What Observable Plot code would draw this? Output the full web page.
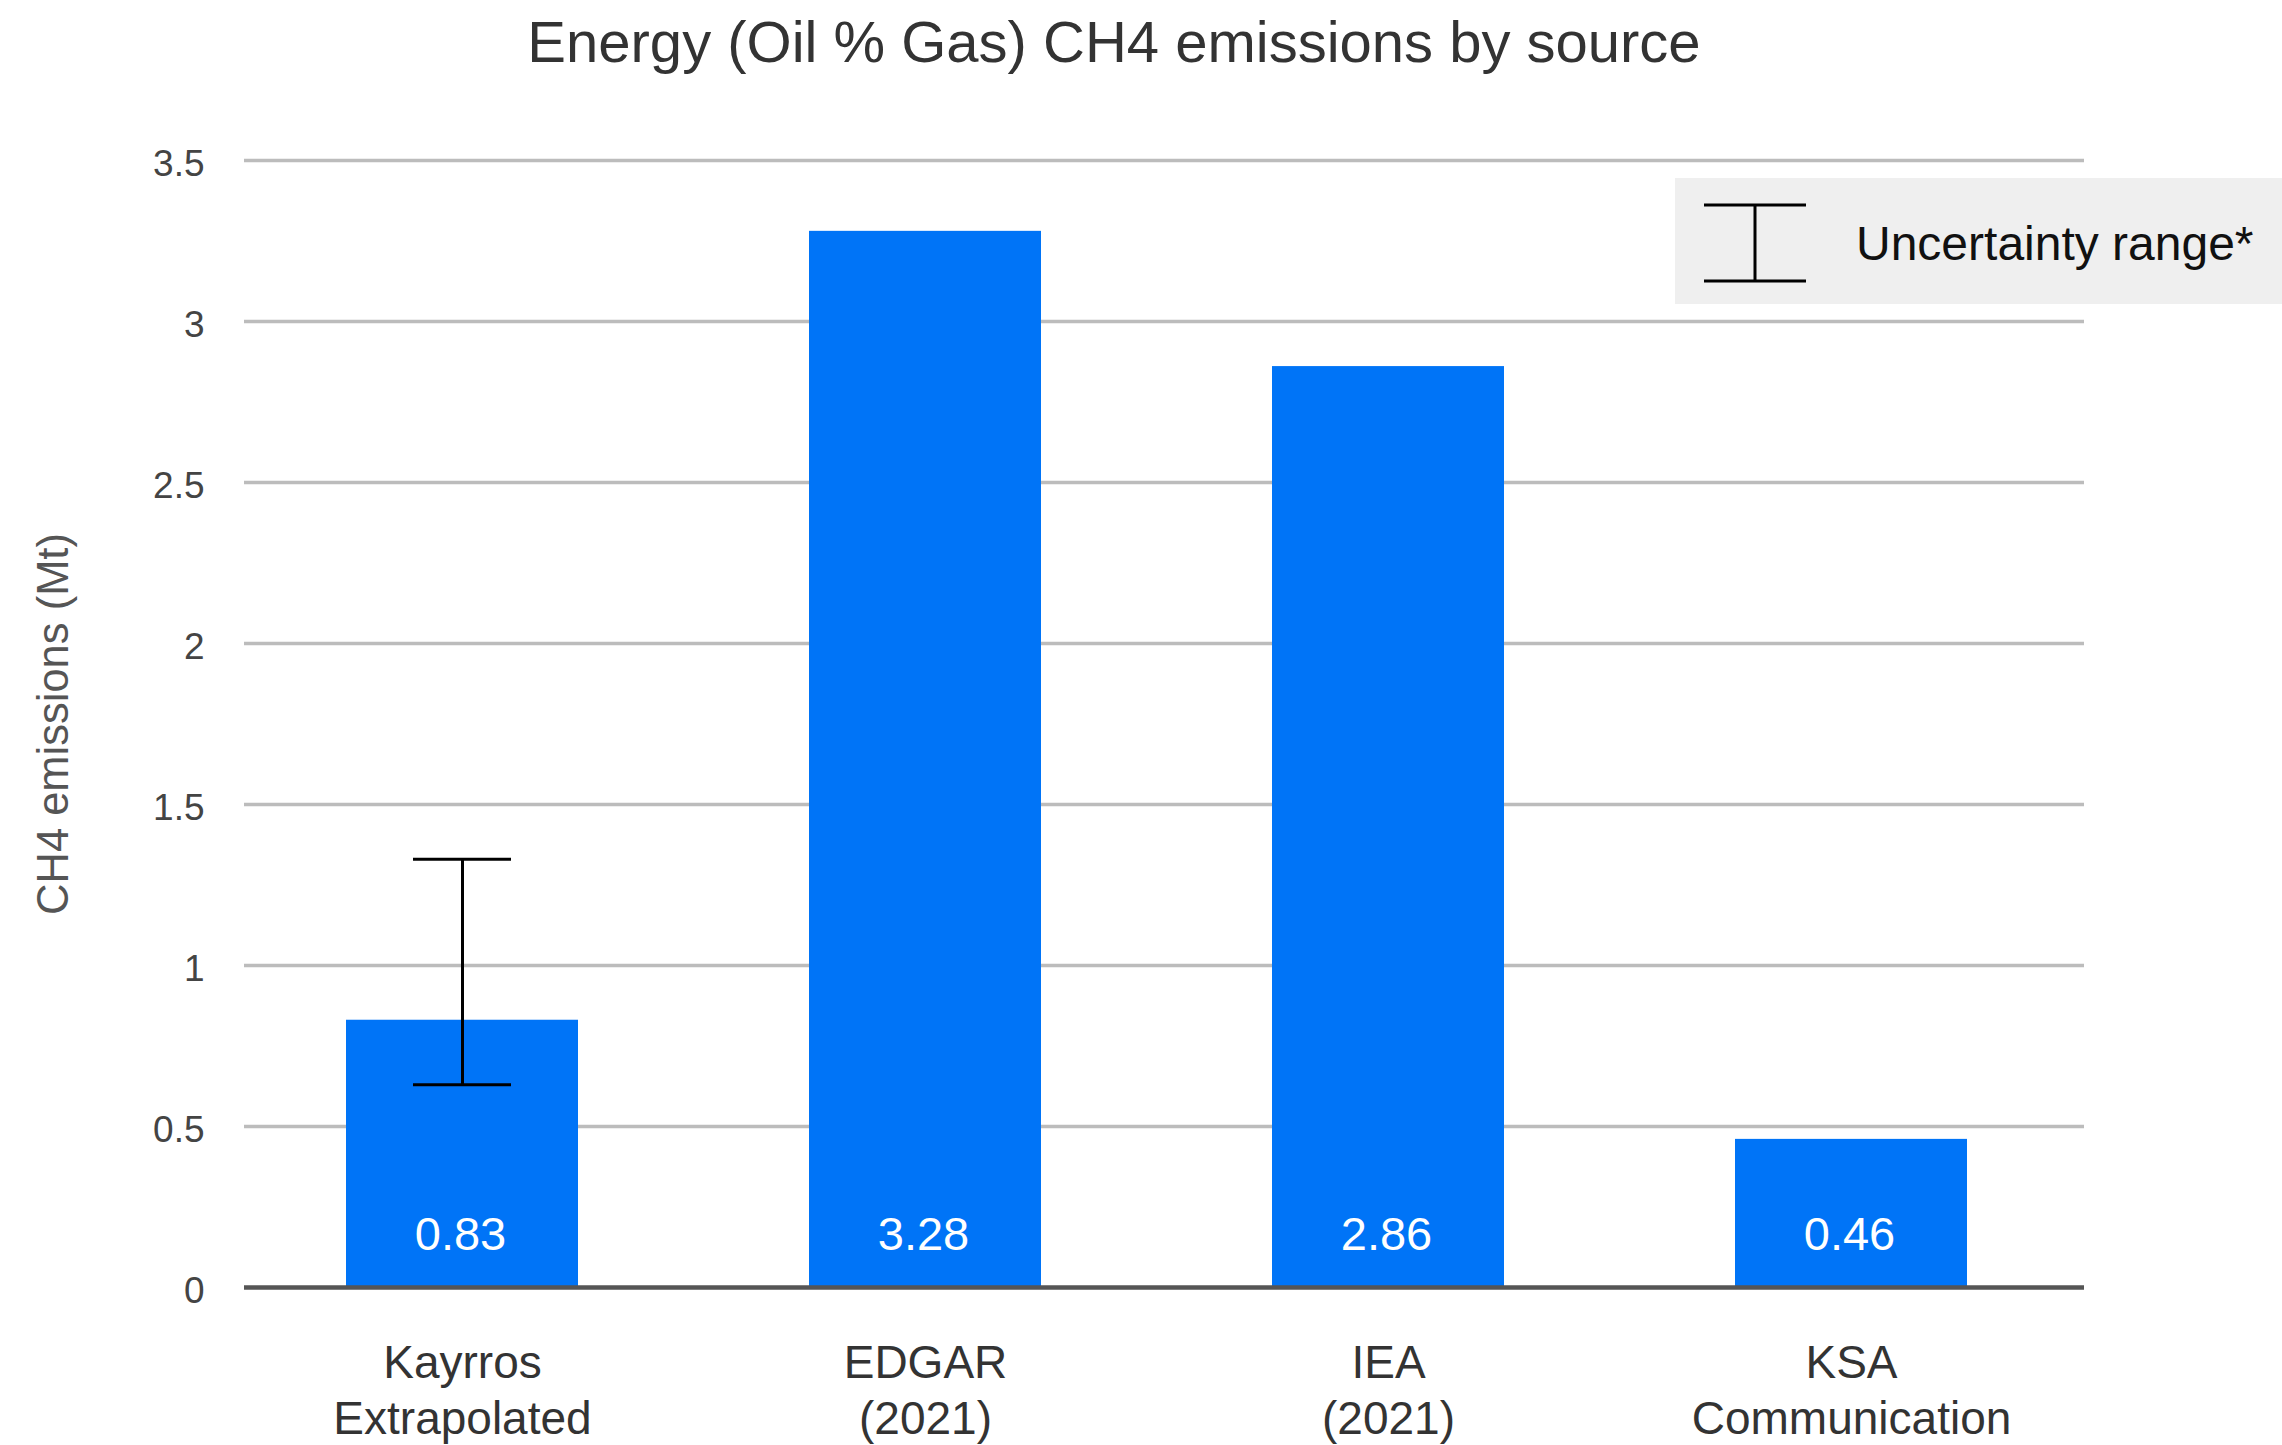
<!DOCTYPE html>
<html>
<head>
<meta charset="utf-8">
<script src="https://cdn.jsdelivr.net/npm/d3@7"></script>
<script src="https://cdn.jsdelivr.net/npm/@observablehq/plot@0.6"></script>
<style>
  html, body { margin: 0; padding: 0; background: #fff; }
  #wrap { position: relative; width: 2282px; height: 1445px; overflow: hidden;
          font-family: "Liberation Sans", Arial, sans-serif; }
  #title { position: absolute; left: 0; top: 13px; width: 2228px; text-align: center;
           font-size: 58px; line-height: 57px; color: #333; white-space: nowrap; }
  #chart { position: absolute; left: 0; top: 0; }
  #legend { position: absolute; left: 1675px; top: 178px; width: 607px; height: 126px; background: #efefef; }
  #legend svg { position: absolute; left: 0; top: 0; }
  #legend .lbl { position: absolute; left: 181px; top: 42px; font-size: 48px; line-height: 48px; color: #111; white-space: nowrap; }
</style>
</head>
<body>
<div id="wrap">
  <div id="chart"></div>
  <div id="title"></div>
  <div id="legend">
    <svg width="607" height="126">
      <line x1="29" x2="131" y1="27" y2="27" stroke="#000" stroke-width="3"/>
      <line x1="29" x2="131" y1="103" y2="103" stroke="#000" stroke-width="3"/>
      <line x1="80" x2="80" y1="27" y2="103" stroke="#000" stroke-width="3"/>
    </svg>
    <div class="lbl" id="legendLabel"></div>
  </div>
</div>
<script>
const titleText = "Energy (Oil % Gas) CH4 emissions by source";
const yAxisTitle = "CH4 emissions (Mt)";
const legendText = "Uncertainty range*";

const sources = ["Kayrros Extrapolated", "EDGAR (2021)", "IEA (2021)", "KSA Communication"];
const labelLine1 = ["Kayrros", "EDGAR", "IEA", "KSA"];
const labelLine2 = ["Extrapolated", "(2021)", "(2021)", "Communication"];
const emissions = [0.83, 3.28, 2.86, 0.46];
const valueLabels = ["0.83", "3.28", "2.86", "0.46"];
const uncertaintyLow = [0.63, null, null, null];
const uncertaintyHigh = [1.33, null, null, null];
const yTicks = [0, 0.5, 1, 1.5, 2, 2.5, 3, 3.5];
const yTickLabels = ["0", "0.5", "1", "1.5", "2", "2.5", "3", "3.5"];

document.getElementById("title").textContent = titleText;
document.getElementById("legendLabel").textContent = legendText;

const data = sources.map((s, i) => ({
  source: s,
  line1: labelLine1[i],
  line2: labelLine2[i],
  value: emissions[i],
  label: valueLabels[i],
  low: uncertaintyLow[i],
  high: uncertaintyHigh[i]
}));
const errData = data.filter(d => d.low != null && d.high != null);

const chart = Plot.plot({
  width: 2282,
  height: 1445,
  marginTop: 160,
  marginBottom: 158,
  marginLeft: 229,
  marginRight: 198,
  style: { fontFamily: "'Liberation Sans', Arial, sans-serif", color: "#444", background: "transparent" },
  x: { type: "band", domain: sources, paddingInner: 0.5, paddingOuter: 0.25, axis: null },
  y: { domain: [0, 3.5], axis: null },
  marks: [
    Plot.ruleY(yTicks.filter(t => t > 0), { stroke: "#bcbcbc", strokeWidth: 3.5, insetLeft: 15 }),
    Plot.barY(data, { x: "source", y: "value", fill: "#0074f7" }),
    Plot.ruleY([0], { stroke: "#555", strokeWidth: 4.5, insetLeft: 15 }),
    Plot.text(data, { x: "source", text: "label", frameAnchor: "bottom", dy: -38, dx: -2, fill: "white", fontSize: 47 }),
    Plot.ruleX(errData, { x: "source", y1: "low", y2: "high", stroke: "#000", strokeWidth: 3 }),
    Plot.tickY(errData, { x: "source", y: "low", stroke: "#000", strokeWidth: 3, insetLeft: 67, insetRight: 67 }),
    Plot.tickY(errData, { x: "source", y: "high", stroke: "#000", strokeWidth: 3, insetLeft: 67, insetRight: 67 }),
    Plot.axisY({ ticks: yTicks, tickFormat: d => yTickLabels[yTicks.indexOf(d)], tickSize: 0, tickPadding: 25,
                 fontSize: 37, dy: 4, label: null }),
    Plot.text(data, { x: "source", text: d => d.line1 + "\n" + d.line2, frameAnchor: "bottom", lineAnchor: "top",
                      dy: 51, lineHeight: 1.22, fontSize: 46, fill: "#333" }),
    Plot.text([yAxisTitle], { text: d => d, frameAnchor: "left", textAnchor: "middle", rotate: -90, dx: -175,
                              fontSize: 43.5, fill: "#555" })
  ]
});
document.getElementById("chart").appendChild(chart);
</script>
</body>
</html>
